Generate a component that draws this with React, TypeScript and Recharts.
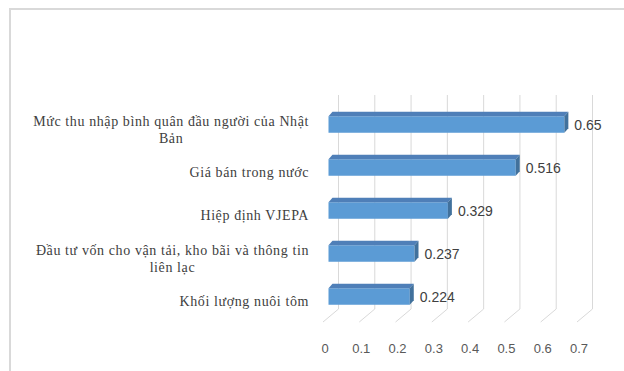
import { BarChart, Bar, XAxis, YAxis, CartesianGrid, LabelList } from 'recharts'

const categories = [
  'Mức thu nhập bình quân đầu người của Nhật Bản',
  'Giá bán trong nước',
  'Hiệp định VJEPA',
  'Đầu tư vốn cho vận tải, kho bãi và thông tin liên lạc',
  'Khối lượng nuôi tôm',
]
const values = [0.65, 0.516, 0.329, 0.237, 0.224]
const xTicks = [0, 0.1, 0.2, 0.3, 0.4, 0.5, 0.6, 0.7]

const data = categories.map((name, i) => ({ name, value: values[i] }))

// fake 3D geometry (pixels)
const BAR_SHIFT_X = 5.5
const BAR_SHIFT_Y = -4.75
const DEPTH_X = 4
const DEPTH_Y = 4.5
const WALL_X = 15.5

const LABEL_SIZE = 14
const LABEL_SPACING = 0.6
const LABEL_FONT = `${LABEL_SIZE}px 'Liberation Serif'`
const LABEL_MAX = 290

let ctx: CanvasRenderingContext2D | null = null
const measure = (s: string) => {
  if (!ctx) ctx = document.createElement('canvas').getContext('2d')
  if (!ctx) return s.length * 7
  ctx.font = LABEL_FONT
  return ctx.measureText(s).width + s.length * LABEL_SPACING
}

const wrap = (text: string) => {
  const words = text.split(' ')
  const lines: string[] = []
  let cur = ''
  for (const w of words) {
    const next = cur ? cur + ' ' + w : w
    if (cur && measure(next) > LABEL_MAX) {
      lines.push(cur)
      cur = w
    } else cur = next
  }
  if (cur) lines.push(cur)
  return lines
}

const CategoryTick = ({ x, y, payload }: any) => {
  const lines = wrap(payload.value)
  const maxW = Math.max(...lines.map(measure))
  const right = x - 6
  const cx = lines.length > 1 ? right - maxW / 2 : right
  const lh = 16.5
  const y0 = y - ((lines.length - 1) * lh) / 2
  return (
    <text
      fill="#404040"
      fontSize={LABEL_SIZE}
      letterSpacing={LABEL_SPACING}
      fontFamily="'Liberation Serif', serif"
      textAnchor={lines.length > 1 ? 'middle' : 'end'}
    >
      {lines.map((l, i) => (
        <tspan key={i} x={cx} y={y0 + i * lh} dy="0.35em">{l}</tspan>
      ))}
    </text>
  )
}

const ValueTick = ({ x, y, payload }: any) => (
  <text
    x={x + 2}
    y={y + 17}
    fill="#595959"
    fontSize={13}
    fontFamily="'Liberation Sans', sans-serif"
    textAnchor="middle"
    dy="0.35em"
  >
    {payload.value}
  </text>
)

const GridLine = (props: any) => {
  const { x1, y1, y2 } = props
  const bx = x1 + WALL_X
  return (
    <path
      key={props.key ?? `g-${x1}`}
      d={`M${bx},${y1 - 13} L${bx},${y2 - 14} L${x1},${y2 - 1}`}
      stroke="#d9d9d9"
      strokeWidth={1}
      fill="none"
    />
  )
}

const Bar3D = (props: any) => {
  const { x, y, width, height } = props
  if (width == null || width <= 0) return null
  const fx = x + BAR_SHIFT_X
  const fy = y + BAR_SHIFT_Y
  const w = width
  const h = height
  return (
    <g>
      <rect x={fx} y={fy} width={w} height={h} fill="#5b9bd5" />
      <polygon
        points={`${fx},${fy} ${fx + DEPTH_X},${fy - DEPTH_Y} ${fx + w + DEPTH_X},${fy - DEPTH_Y} ${fx + w},${fy}`}
        fill="#4f7fb8"
      />
      <polygon
        points={`${fx + w},${fy} ${fx + w + DEPTH_X},${fy - DEPTH_Y} ${fx + w + DEPTH_X},${fy + h - DEPTH_Y} ${fx + w},${fy + h}`}
        fill="#41719c"
      />
    </g>
  )
}

const ValueLabel = (props: any) => {
  const { x, y, width, height, value } = props
  return (
    <text
      x={x + width + BAR_SHIFT_X + DEPTH_X + 6}
      y={y + height / 2 + BAR_SHIFT_Y + 1}
      fill="#404040"
      fontSize={14}
      fontFamily="'Liberation Sans', sans-serif"
      dy="0.35em"
    >
      {value}
    </text>
  )
}

export default function App() {
  return (
    <div
      style={{
        position: 'absolute', left: 0, top: 0, width: 624, height: 371,
        background: '#fff', overflow: 'hidden',
      }}
    >
      <div
        style={{
          position: 'absolute', left: 9, top: 8, width: 700, height: 400,
          borderTop: '2px solid #d9d9d9', borderLeft: '2px solid #d9d9d9',
        }}
      />
      <BarChart
        width={624}
        height={371}
        data={data}
        layout="vertical"
        margin={{ top: 108, right: 47, bottom: 18, left: 0 }}
        barSize={16.5}
        style={{ position: 'absolute', left: 0, top: 0 }}
      >
        <CartesianGrid horizontal={false} vertical={GridLine} />
        <XAxis
          type="number"
          domain={[0, 0.7]}
          ticks={xTicks}
          axisLine={false}
          tickLine={false}
          tick={<ValueTick />}
          height={30}
        />
        <YAxis
          type="category"
          dataKey="name"
          width={323}
          axisLine={false}
          tickLine={false}
          tick={<CategoryTick />}
          interval={0}
        />
        <Bar dataKey="value" shape={<Bar3D />} isAnimationActive={false}>
          <LabelList dataKey="value" content={<ValueLabel />} />
        </Bar>
      </BarChart>
    </div>
  )
}
